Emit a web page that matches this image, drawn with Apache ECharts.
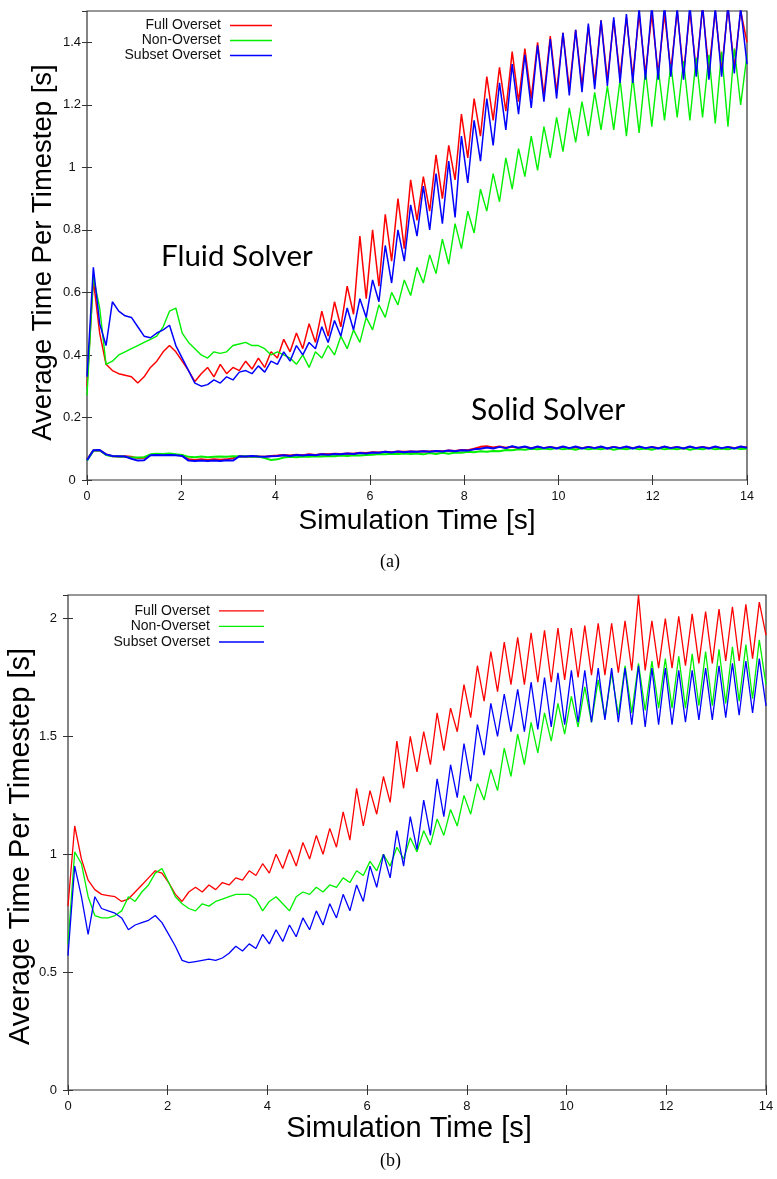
<!DOCTYPE html>
<html>
<head>
<meta charset="utf-8">
<script src="https://cdn.jsdelivr.net/npm/echarts@6/dist/echarts.min.js"></script>
<style>
html,body{margin:0;padding:0;background:#fff;}
#chart{width:777px;height:1179px;}
</style>
</head>
<body>
<div id="chart"></div>
<script>
// ---- sampling grid (time in seconds) ----
const T_END = 14;
const N_SAMPLES = 105;

// ---- series labels ----
const seriesNames = ['Full Overset', 'Non-Overset', 'Subset Overset'];
const xTickLabels = ['0', '2', '4', '6', '8', '10', '12', '14'];

// ---- Panel (a): fluid solver ----
const aFull = [
  0.30, 0.64, 0.47, 0.37, 0.35, 0.34, 0.335, 0.33, 0.31, 0.33,
  0.36, 0.38, 0.41, 0.43, 0.41, 0.38, 0.35, 0.315, 0.34, 0.36,
  0.33, 0.37, 0.34, 0.36, 0.35, 0.38, 0.355, 0.39, 0.36, 0.41,
  0.39, 0.45, 0.41, 0.47, 0.42, 0.50, 0.44, 0.54, 0.46, 0.57,
  0.49, 0.62, 0.53, 0.78, 0.58, 0.80, 0.62, 0.85, 0.70, 0.90,
  0.74, 0.96, 0.83, 0.97, 0.86, 1.04, 0.90, 1.07, 0.96, 1.17,
  1.03, 1.22, 1.10, 1.29, 1.15, 1.32, 1.18, 1.37, 1.21, 1.38,
  1.22, 1.40, 1.23, 1.42, 1.24, 1.43, 1.25, 1.44, 1.26, 1.45,
  1.27, 1.47, 1.28, 1.47, 1.29, 1.48, 1.29, 1.49, 1.30, 1.49,
  1.30, 1.49, 1.31, 1.50, 1.30, 1.50, 1.31, 1.51, 1.31, 1.50,
  1.31, 1.51, 1.32, 1.50, 1.40
];
const aNon = [
  0.27, 0.65, 0.55, 0.37, 0.38, 0.40, 0.41, 0.42, 0.43, 0.44,
  0.45, 0.46, 0.49, 0.54, 0.55, 0.47, 0.44, 0.42, 0.40, 0.39,
  0.41, 0.405, 0.41, 0.43, 0.435, 0.44, 0.43, 0.43, 0.42, 0.40,
  0.41, 0.40, 0.39, 0.37, 0.40, 0.36, 0.41, 0.39, 0.43, 0.40,
  0.46, 0.42, 0.48, 0.44, 0.52, 0.48, 0.56, 0.52, 0.60, 0.56,
  0.64, 0.59, 0.68, 0.63, 0.72, 0.66, 0.77, 0.69, 0.82, 0.74,
  0.86, 0.79, 0.93, 0.86, 0.98, 0.89, 1.03, 0.93, 1.06, 0.97,
  1.10, 0.99, 1.13, 1.03, 1.16, 1.05, 1.19, 1.08, 1.21, 1.10,
  1.24, 1.12, 1.26, 1.12, 1.28, 1.10, 1.29, 1.11, 1.31, 1.13,
  1.32, 1.15, 1.33, 1.16, 1.34, 1.15, 1.35, 1.16, 1.36, 1.14,
  1.37, 1.13, 1.38, 1.20, 1.36
];
const aSubset = [
  0.33, 0.68, 0.50, 0.43, 0.57, 0.54, 0.525, 0.52, 0.49, 0.46,
  0.455, 0.47, 0.48, 0.495, 0.43, 0.39, 0.35, 0.31, 0.30, 0.305,
  0.32, 0.31, 0.33, 0.32, 0.345, 0.35, 0.34, 0.365, 0.345, 0.38,
  0.37, 0.41, 0.38, 0.43, 0.40, 0.44, 0.42, 0.49, 0.44, 0.51,
  0.46, 0.55, 0.48, 0.58, 0.52, 0.64, 0.57, 0.75, 0.63, 0.80,
  0.70, 0.88, 0.78, 0.94, 0.80, 0.98, 0.82, 1.02, 0.84, 1.10,
  0.95, 1.15, 1.02, 1.22, 1.07, 1.27, 1.12, 1.33, 1.17, 1.36,
  1.19, 1.39, 1.21, 1.41, 1.22, 1.43, 1.23, 1.44, 1.24, 1.46,
  1.25, 1.47, 1.26, 1.48, 1.27, 1.49, 1.27, 1.51, 1.28, 1.52,
  1.28, 1.52, 1.29, 1.51, 1.28, 1.52, 1.29, 1.52, 1.28, 1.51,
  1.29, 1.52, 1.30, 1.51, 1.33
];

// ---- Panel (a): solid solver ----
const aFullSolid = [
  0.065, 0.094, 0.095, 0.082, 0.076, 0.075, 0.076, 0.074, 0.070, 0.071,
  0.080, 0.081, 0.080, 0.081, 0.080, 0.079, 0.066, 0.064, 0.066, 0.064,
  0.066, 0.065, 0.066, 0.070, 0.076, 0.074, 0.076, 0.075, 0.074, 0.077,
  0.078, 0.080, 0.078, 0.081, 0.079, 0.082, 0.080, 0.083, 0.082, 0.084,
  0.083, 0.085, 0.084, 0.087, 0.086, 0.089, 0.088, 0.090, 0.089, 0.091,
  0.090, 0.091, 0.090, 0.092, 0.091, 0.093, 0.092, 0.094, 0.093, 0.096,
  0.095, 0.100, 0.106, 0.108, 0.104, 0.107, 0.103, 0.106, 0.102, 0.106,
  0.102, 0.106, 0.102, 0.105, 0.102, 0.106, 0.101, 0.105, 0.102, 0.106,
  0.102, 0.105, 0.101, 0.106, 0.102, 0.105, 0.102, 0.106, 0.101, 0.105,
  0.102, 0.106, 0.102, 0.105, 0.101, 0.106, 0.102, 0.105, 0.102, 0.106,
  0.101, 0.105, 0.102, 0.106, 0.104
];
const aNonSolid = [
  0.062, 0.094, 0.095, 0.080, 0.076, 0.075, 0.074, 0.072, 0.072, 0.073,
  0.082, 0.084, 0.083, 0.085, 0.082, 0.080, 0.074, 0.073, 0.075, 0.073,
  0.074, 0.075, 0.074, 0.076, 0.075, 0.076, 0.074, 0.075, 0.070, 0.064,
  0.066, 0.072, 0.074, 0.073, 0.075, 0.074, 0.076, 0.075, 0.077, 0.076,
  0.078, 0.077, 0.079, 0.078, 0.080, 0.081, 0.083, 0.082, 0.084, 0.083,
  0.085, 0.083, 0.085, 0.082, 0.086, 0.083, 0.087, 0.084, 0.088, 0.087,
  0.090, 0.089, 0.092, 0.090, 0.093, 0.092, 0.096, 0.095, 0.098, 0.097,
  0.100, 0.098, 0.101, 0.098, 0.102, 0.098, 0.101, 0.097, 0.102, 0.098,
  0.101, 0.098, 0.102, 0.097, 0.101, 0.098, 0.102, 0.098, 0.101, 0.097,
  0.102, 0.098, 0.101, 0.098, 0.102, 0.097, 0.101, 0.098, 0.102, 0.098,
  0.101, 0.098, 0.102, 0.099, 0.100
];
const aSubsetSolid = [
  0.063, 0.095, 0.096, 0.082, 0.077, 0.076, 0.075, 0.068, 0.062, 0.063,
  0.079, 0.080, 0.079, 0.080, 0.079, 0.077, 0.062, 0.061, 0.062, 0.061,
  0.062, 0.061, 0.063, 0.062, 0.076, 0.075, 0.077, 0.075, 0.074, 0.076,
  0.077, 0.079, 0.077, 0.080, 0.078, 0.081, 0.079, 0.082, 0.081, 0.083,
  0.082, 0.085, 0.083, 0.086, 0.085, 0.088, 0.087, 0.090, 0.088, 0.091,
  0.089, 0.091, 0.090, 0.092, 0.090, 0.093, 0.091, 0.094, 0.092, 0.095,
  0.094, 0.098, 0.100, 0.104, 0.101, 0.106, 0.102, 0.108, 0.103, 0.107,
  0.101, 0.107, 0.102, 0.106, 0.101, 0.107, 0.102, 0.107, 0.101, 0.106,
  0.102, 0.107, 0.101, 0.106, 0.102, 0.107, 0.101, 0.107, 0.102, 0.106,
  0.101, 0.107, 0.102, 0.106, 0.101, 0.107, 0.102, 0.106, 0.101, 0.107,
  0.102, 0.106, 0.101, 0.107, 0.103
];

// ---- Panel (b) ----
const bFull = [
  0.78, 1.12, 0.98, 0.89, 0.85, 0.83, 0.825, 0.82, 0.80, 0.81,
  0.84, 0.87, 0.90, 0.93, 0.92, 0.88, 0.83, 0.80, 0.84, 0.86,
  0.84, 0.87, 0.85, 0.88, 0.87, 0.90, 0.89, 0.93, 0.91, 0.96,
  0.92, 1.00, 0.94, 1.02, 0.95, 1.05, 0.98, 1.08, 1.00, 1.11,
  1.03, 1.18, 1.06, 1.28, 1.12, 1.27, 1.17, 1.33, 1.22, 1.48,
  1.28, 1.50, 1.35, 1.52, 1.38, 1.60, 1.44, 1.62, 1.52, 1.72,
  1.58, 1.80, 1.65, 1.86, 1.69, 1.90, 1.72, 1.92, 1.72, 1.94,
  1.73, 1.95, 1.73, 1.96, 1.74, 1.96, 1.75, 1.97, 1.76, 1.98,
  1.76, 1.98, 1.77, 1.99, 1.78, 2.10, 1.78, 1.99, 1.79, 2.00,
  1.79, 2.01, 1.80, 2.02, 1.81, 2.03, 1.81, 2.04, 1.82, 2.05,
  1.82, 2.06, 1.83, 2.07, 1.93
];
const bNon = [
  0.62, 1.01, 0.96, 0.82, 0.74, 0.73, 0.73, 0.74, 0.76, 0.82,
  0.80, 0.84, 0.87, 0.92, 0.94, 0.88, 0.82, 0.79, 0.77, 0.76,
  0.79, 0.78, 0.80, 0.81, 0.82, 0.83, 0.83, 0.83, 0.81, 0.76,
  0.80, 0.82, 0.79, 0.76, 0.82, 0.84, 0.83, 0.86, 0.84, 0.87,
  0.86, 0.90, 0.88, 0.93, 0.91, 0.97, 0.93, 1.00, 0.95, 1.03,
  0.98, 1.07, 1.01, 1.10, 1.04, 1.15, 1.08, 1.19, 1.12, 1.25,
  1.17, 1.30, 1.23, 1.36, 1.27, 1.45, 1.33, 1.51, 1.38, 1.56,
  1.43, 1.60, 1.48, 1.64, 1.51, 1.67, 1.54, 1.71, 1.56, 1.74,
  1.58, 1.77, 1.59, 1.80, 1.60, 1.81, 1.61, 1.82, 1.62, 1.83,
  1.62, 1.84, 1.62, 1.85, 1.63, 1.86, 1.63, 1.87, 1.64, 1.88,
  1.65, 1.89, 1.66, 1.91, 1.72
];
const bSubset = [
  0.57, 0.95, 0.82, 0.66, 0.82, 0.77, 0.76, 0.75, 0.73, 0.68,
  0.70, 0.71, 0.72, 0.74, 0.71, 0.66, 0.61, 0.55, 0.54, 0.545,
  0.55, 0.555, 0.55, 0.56, 0.58, 0.61, 0.59, 0.62, 0.60, 0.66,
  0.62, 0.68, 0.63, 0.70, 0.65, 0.73, 0.68, 0.76, 0.70, 0.79,
  0.73, 0.83, 0.76, 0.87, 0.80, 0.95, 0.86, 1.00, 0.90, 1.10,
  0.95, 1.16, 1.02, 1.23, 1.08, 1.32, 1.16, 1.38, 1.24, 1.47,
  1.31, 1.55, 1.42, 1.64, 1.50, 1.68, 1.52, 1.70, 1.52, 1.73,
  1.53, 1.75, 1.54, 1.77, 1.55, 1.78, 1.56, 1.78, 1.56, 1.79,
  1.57, 1.79, 1.56, 1.79, 1.55, 1.80, 1.54, 1.79, 1.55, 1.79,
  1.55, 1.78, 1.56, 1.78, 1.57, 1.79, 1.57, 1.80, 1.58, 1.81,
  1.59, 1.82, 1.60, 1.83, 1.63
];

// ---- build chart ----
const COLORS = ['#ff0000', '#00f000', '#0000ff'];
const SANS = '"Liberation Sans", Arial, sans-serif';
const TICK = { inside: true, length: 5, lineStyle: { color: '#333', width: 1 } };

function withTime(vals) {
  return vals.map((v, i) => [i * T_END / (N_SAMPLES - 1), v]);
}

function lineSeries(name, vals, axisIdx, colorIdx, width) {
  return {
    name: name, type: 'line', data: withTime(vals),
    xAxisIndex: axisIdx, yAxisIndex: axisIdx,
    showSymbol: false, symbol: 'none', clip: true,
    lineStyle: { color: COLORS[colorIdx], width: width },
    itemStyle: { color: COLORS[colorIdx] },
    emphasis: { disabled: true }, silent: true
  };
}

function xAxes(grid, nameSize, nameGap, labelSize, namePad) {
  const base = {
    gridIndex: grid, type: 'value', min: 0, max: 14, interval: 2,
    axisLine: { show: false }, splitLine: { show: false },
    axisTick: TICK
  };
  return [
    Object.assign({}, base, {
      position: 'bottom',
      axisLabel: { margin: 10, fontSize: labelSize, color: '#111', fontFamily: SANS,
        formatter: (v) => xTickLabels[Math.round(v / 2)] },
      name: 'Simulation Time [s]', nameLocation: 'middle', nameGap: nameGap,
      nameMoveOverlap: false,
      nameTextStyle: { fontSize: nameSize, color: '#000', fontFamily: SANS, padding: namePad }
    }),
    Object.assign({}, base, { position: 'top', axisLabel: { show: false } })
  ];
}

function yAxes(grid, max, interval, nameSize, nameGap, labelOpts, namePad) {
  const base = {
    gridIndex: grid, type: 'value', min: 0, max: max, interval: interval,
    axisLine: { show: false }, splitLine: { show: false },
    axisTick: TICK
  };
  return [
    Object.assign({}, base, {
      position: 'left',
      axisLabel: Object.assign({ fontSize: 13, color: '#111', fontFamily: SANS, showMaxLabel: false }, labelOpts),
      name: 'Average Time Per Timestep [s]', nameLocation: 'middle', nameGap: nameGap,
      nameMoveOverlap: false,
      nameTextStyle: { fontSize: nameSize, color: '#000', fontFamily: SANS, padding: namePad }
    }),
    Object.assign({}, base, { position: 'right', axisLabel: { show: false } })
  ];
}

const legendBase = {
  data: seriesNames, orient: 'vertical', align: 'right', icon: 'rect',
  itemWidth: 42, itemHeight: 1.3, itemGap: 0, padding: 0,
  selectedMode: false,
  textStyle: { fontSize: 14, lineHeight: 15, color: '#111', fontFamily: SANS, padding: [0, 4, 0, 0] }
};

const option = {
  animation: false,
  backgroundColor: '#fff',
  grid: [
    { left: 87, top: 11, width: 660, height: 469, show: true, borderColor: '#333', borderWidth: 1.2, backgroundColor: 'transparent', outerBoundsMode: 'none', containLabel: false },
    { left: 68, top: 595, width: 698, height: 495, show: true, borderColor: '#333', borderWidth: 1.2, backgroundColor: 'transparent', outerBoundsMode: 'none', containLabel: false }
  ],
  xAxis: [].concat(xAxes(0, 28, 27, 12.5, [0, 0, 0, 0]), xAxes(1, 29, 24, 13, [0, 16, 0, 0])),
  yAxis: [].concat(
    yAxes(0, 1.5, 0.2, 27.5, 30, { align: 'center', margin: 15 }, [0, 14, 0, 0]),
    yAxes(1, 2.1, 0.5, 29, 33, { margin: 11 }, [0, 8, 0, 0])
  ),
  legend: [
    Object.assign({}, legendBase, { right: 505, top: 18 }),
    Object.assign({}, legendBase, { right: 513, top: 603, itemWidth: 45, textStyle: Object.assign({}, legendBase.textStyle, { lineHeight: 15.6 }) })
  ],
  series: [
    lineSeries(seriesNames[0], aFull, 0, 0, 1.5),
    lineSeries(seriesNames[1], aNon, 0, 1, 1.4),
    lineSeries(seriesNames[2], aSubset, 0, 2, 1.5),
    lineSeries(seriesNames[0], aFullSolid, 0, 0, 2),
    lineSeries(seriesNames[1], aNonSolid, 0, 1, 2),
    lineSeries(seriesNames[2], aSubsetSolid, 0, 2, 2),
    lineSeries(seriesNames[0], bFull, 2, 0, 1.3),
    lineSeries(seriesNames[1], bNon, 2, 1, 1.3),
    lineSeries(seriesNames[2], bSubset, 2, 2, 1.3)
  ],
  graphic: [
    { type: 'text', left: 161, top: 241, style: { text: 'Fluid Solver', fill: '#000', font: '29.5px Lato, "Open Sans", sans-serif' } },
    { type: 'text', left: 471, top: 395, style: { text: 'Solid Solver', fill: '#000', font: '30px Lato, "Open Sans", sans-serif' } },
    { type: 'text', left: 380, top: 553, style: { text: '(a)', fill: '#000', font: '18px "Liberation Serif", serif' } },
    { type: 'text', left: 380, top: 1152, style: { text: '(b)', fill: '#000', font: '18px "Liberation Serif", serif' } }
  ]
};

const chart = echarts.init(document.getElementById('chart'), null, { renderer: 'canvas' });
chart.setOption(option);
</script>
</body>
</html>
